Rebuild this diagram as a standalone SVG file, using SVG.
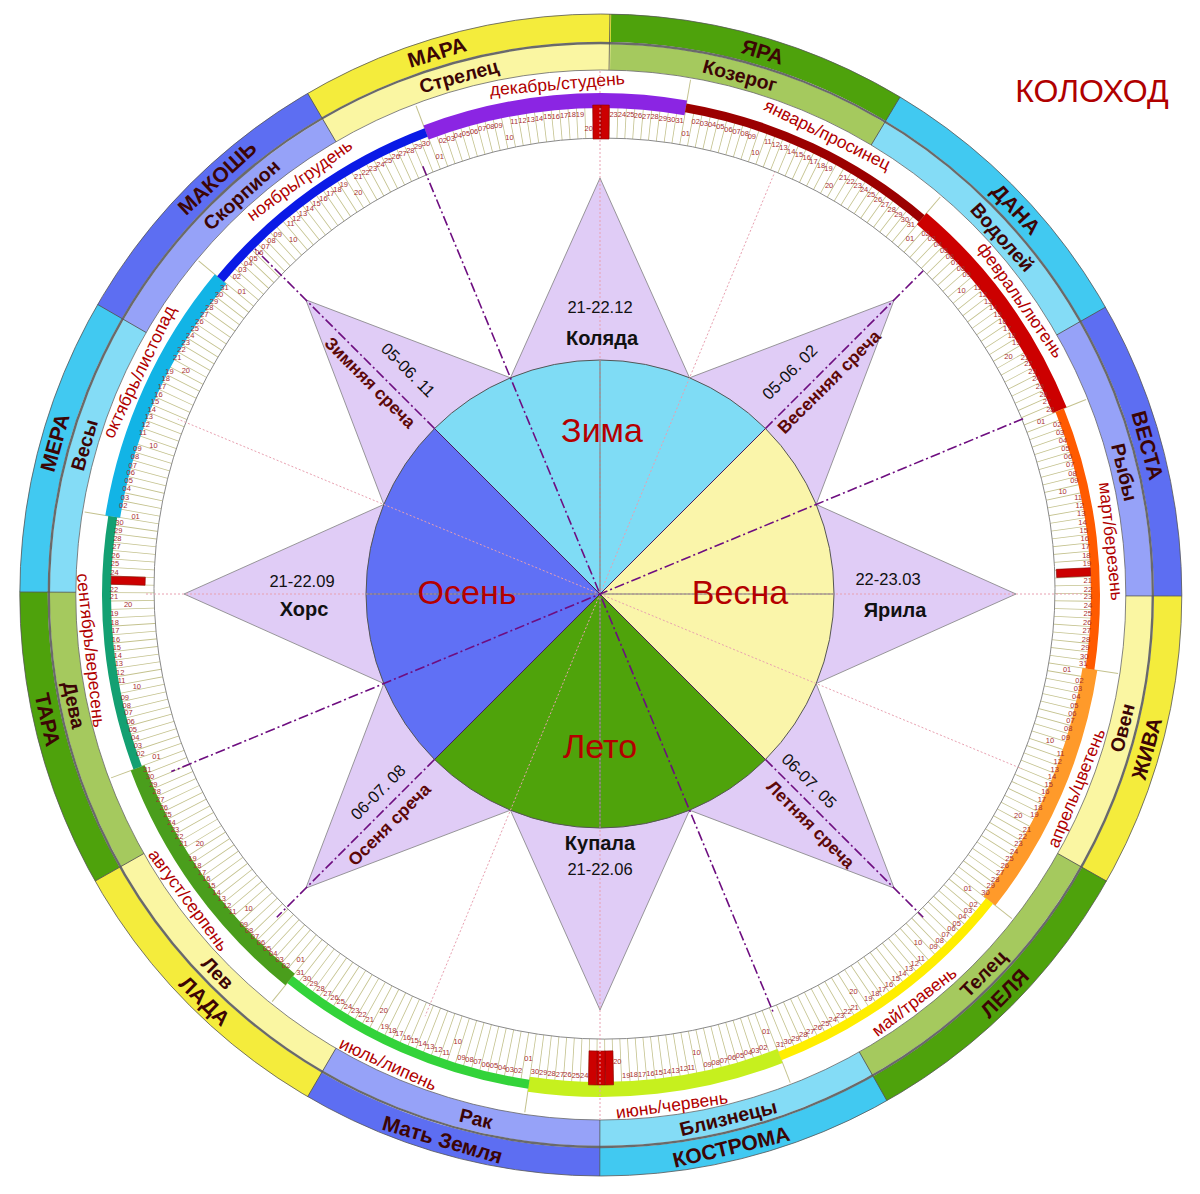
<svg xmlns="http://www.w3.org/2000/svg" width="1200" height="1194" viewBox="0 0 1200 1194">
<defs><style>
text{font-family:"Liberation Sans",Arial,sans-serif}
.dl{font-size:7.5px;fill:#a83030;text-anchor:middle;dominant-baseline:central}
.deity{font-size:21px;font-weight:bold;fill:#3c0505;text-anchor:middle;dominant-baseline:central}
.zod{font-size:19.5px;font-weight:bold;fill:#3c0505;text-anchor:middle;dominant-baseline:central}
.mon{font-size:17.5px;fill:#b00000;text-anchor:middle;dominant-baseline:central}
.season{font-size:34px;fill:#b40000;text-anchor:middle;dominant-baseline:central}
.date{font-size:16.5px;fill:#111;text-anchor:middle;dominant-baseline:central}
.name{font-size:20px;font-weight:bold;fill:#111;text-anchor:middle;dominant-baseline:central}
.sr{font-size:17.5px;font-weight:bold;fill:#5c0808;text-anchor:middle;dominant-baseline:central}
.dot{stroke:#e8a0b0;stroke-width:1;stroke-dasharray:2 2;fill:none}
.dd{stroke:#6e0e80;stroke-width:1.6;stroke-dasharray:10 3 2 3;fill:none}
.o{fill:none;stroke-width:28}
.z{fill:none;stroke-width:26}
.mb{fill:none;stroke-width:15}
.mt{fill:none;stroke-width:9}
</style></defs>
<rect width="1200" height="1194" fill="#fff"/>

<g id="outer-ring">
<g id="s-yara"><circle class="o" cx="600.8" cy="595" r="567" stroke="#4ea20c" stroke-dasharray="299 4000" transform="rotate(-89.1 600.8 595)"/><text class="deity" x="600.8" y="28" transform="rotate(16.6 600.8 595)">ЯРА</text></g>
<g id="s-dana"><circle class="o" cx="600.8" cy="595" r="567" stroke="#41c9f1" stroke-dasharray="291 4000" transform="rotate(-59 600.8 595)"/><text class="deity" x="600.8" y="28" transform="rotate(47.1 600.8 595)">ДАНА</text></g>
<g id="s-vesta"><circle class="o" cx="600.8" cy="595" r="567" stroke="#5d6ef2" stroke-dasharray="296 4000" transform="rotate(-29.7 600.8 595)"/><text class="deity" x="600.8" y="28" transform="rotate(74.7 600.8 595)">ВЕСТА</text></g>
<g id="s-zhiva"><circle class="o" cx="600.8" cy="595" r="567" stroke="#f4ec3c" stroke-dasharray="292 4000" transform="rotate(0.1 600.8 595)"/><text class="deity" x="600.8" y="1162" transform="rotate(-74.3 600.8 595)">ЖИВА</text></g>
<g id="s-lelya"><circle class="o" cx="600.8" cy="595" r="567" stroke="#4ea20c" stroke-dasharray="308 4000" transform="rotate(29.5 600.8 595)"/><text class="deity" x="600.8" y="1162" transform="rotate(-45.4 600.8 595)">ЛЕЛЯ</text></g>
<g id="s-kostroma"><circle class="o" cx="600.8" cy="595" r="567" stroke="#41c9f1" stroke-dasharray="294 4000" transform="rotate(60.5 600.8 595)"/><text class="deity" x="600.8" y="1162" transform="rotate(-13.3 600.8 595)">КОСТРОМА</text></g>
<g id="s-mat-zemlya"><circle class="o" cx="600.8" cy="595" r="567" stroke="#5d6ef2" stroke-dasharray="300 4000" transform="rotate(90.1 600.8 595)"/><text class="deity" x="600.8" y="1162" transform="rotate(16.2 600.8 595)">Мать Земля</text></g>
<g id="s-lada"><circle class="o" cx="600.8" cy="595" r="567" stroke="#f4ec3c" stroke-dasharray="300 4000" transform="rotate(120.3 600.8 595)"/><text class="deity" x="600.8" y="1162" transform="rotate(44.3 600.8 595)">ЛАДА</text></g>
<g id="s-tara"><circle class="o" cx="600.8" cy="595" r="567" stroke="#4ea20c" stroke-dasharray="296 4000" transform="rotate(150.5 600.8 595)"/><text class="deity" x="600.8" y="1162" transform="rotate(77.3 600.8 595)">ТАРА</text></g>
<g id="s-mera"><circle class="o" cx="600.8" cy="595" r="567" stroke="#41c9f1" stroke-dasharray="295 4000" transform="rotate(180.3 600.8 595)"/><text class="deity" x="600.8" y="28" transform="rotate(-74.4 600.8 595)">МЕРА</text></g>
<g id="s-makosh"><circle class="o" cx="600.8" cy="595" r="567" stroke="#5d6ef2" stroke-dasharray="295 4000" transform="rotate(210 600.8 595)"/><text class="deity" x="600.8" y="28" transform="rotate(-42.6 600.8 595)">МАКОШЬ</text></g>
<g id="s-mara"><circle class="o" cx="600.8" cy="595" r="567" stroke="#f4ec3c" stroke-dasharray="310 4000" transform="rotate(239.7 600.8 595)"/><text class="deity" x="600.8" y="28" transform="rotate(-16.8 600.8 595)">МАРА</text></g>
</g>

<g id="zodiac-ring">
<g id="z-kozerog"><circle class="z" cx="600.8" cy="595" r="538" stroke="#a5c95e" stroke-dasharray="284 4000" transform="rotate(-89.1 600.8 595)"/><text class="zod" x="600.8" y="57" transform="rotate(15 600.8 595)">Козерог</text></g>
<g id="z-vodoley"><circle class="z" cx="600.8" cy="595" r="538" stroke="#84dcf6" stroke-dasharray="276 4000" transform="rotate(-59 600.8 595)"/><text class="zod" x="600.8" y="57" transform="rotate(48.3 600.8 595)">Водолей</text></g>
<g id="z-ryby"><circle class="z" cx="600.8" cy="595" r="538" stroke="#96a2f8" stroke-dasharray="281 4000" transform="rotate(-29.7 600.8 595)"/><text class="zod" x="600.8" y="57" transform="rotate(76.8 600.8 595)">Рыбы</text></g>
<g id="z-oven"><circle class="z" cx="600.8" cy="595" r="538" stroke="#faf6a2" stroke-dasharray="277 4000" transform="rotate(0.1 600.8 595)"/><text class="zod" x="600.8" y="1133" transform="rotate(-75.7 600.8 595)">Овен</text></g>
<g id="z-telec"><circle class="z" cx="600.8" cy="595" r="538" stroke="#a5c95e" stroke-dasharray="292 4000" transform="rotate(29.5 600.8 595)"/><text class="zod" x="600.8" y="1133" transform="rotate(-45.3 600.8 595)">Телец</text></g>
<g id="z-bliznecy"><circle class="z" cx="600.8" cy="595" r="538" stroke="#84dcf6" stroke-dasharray="279 4000" transform="rotate(60.5 600.8 595)"/><text class="zod" x="600.8" y="1133" transform="rotate(-13.7 600.8 595)">Близнецы</text></g>
<g id="z-rak"><circle class="z" cx="600.8" cy="595" r="538" stroke="#96a2f8" stroke-dasharray="285 4000" transform="rotate(90.1 600.8 595)"/><text class="zod" x="600.8" y="1133" transform="rotate(13.4 600.8 595)">Рак</text></g>
<g id="z-lev"><circle class="z" cx="600.8" cy="595" r="538" stroke="#faf6a2" stroke-dasharray="285 4000" transform="rotate(120.3 600.8 595)"/><text class="zod" x="600.8" y="1133" transform="rotate(45.4 600.8 595)">Лев</text></g>
<g id="z-deva"><circle class="z" cx="600.8" cy="595" r="538" stroke="#a5c95e" stroke-dasharray="281 4000" transform="rotate(150.5 600.8 595)"/><text class="zod" x="600.8" y="1133" transform="rotate(78.2 600.8 595)">Дева</text></g>
<g id="z-vesy"><circle class="z" cx="600.8" cy="595" r="538" stroke="#84dcf6" stroke-dasharray="280 4000" transform="rotate(180.3 600.8 595)"/><text class="zod" x="600.8" y="57" transform="rotate(-73.8 600.8 595)">Весы</text></g>
<g id="z-skorpion"><circle class="z" cx="600.8" cy="595" r="538" stroke="#96a2f8" stroke-dasharray="280 4000" transform="rotate(210 600.8 595)"/><text class="zod" x="600.8" y="57" transform="rotate(-41.9 600.8 595)">Скорпион</text></g>
<g id="z-strelec"><circle class="z" cx="600.8" cy="595" r="538" stroke="#faf6a2" stroke-dasharray="294 4000" transform="rotate(239.7 600.8 595)"/><text class="zod" x="600.8" y="57" transform="rotate(-15.3 600.8 595)">Стрелец</text></g>
</g>

<g id="ring-lines" fill="none">
<circle cx="600.8" cy="595" r="581" stroke="#555" stroke-width="0.8"/>
<circle cx="600.8" cy="595" r="552" stroke="#6a6a6a" stroke-width="2.4"/>
<circle cx="600.8" cy="595" r="525" stroke="#666" stroke-width="0.8"/>
<g transform="translate(600.8 595)" stroke="#555" stroke-width="0.8">
<line y1="-525" y2="-581" transform="rotate(0.9)"/><line y1="-525" y2="-581" transform="rotate(31)"/><line y1="-525" y2="-581" transform="rotate(60.3)"/><line y1="-525" y2="-581" transform="rotate(90.1)"/><line y1="-525" y2="-581" transform="rotate(119.5)"/><line y1="-525" y2="-581" transform="rotate(150.5)"/><line y1="-525" y2="-581" transform="rotate(180.1)"/><line y1="-525" y2="-581" transform="rotate(210.3)"/><line y1="-525" y2="-581" transform="rotate(240.5)"/><line y1="-525" y2="-581" transform="rotate(270.3)"/><line y1="-525" y2="-581" transform="rotate(300)"/><line y1="-525" y2="-581" transform="rotate(329.7)"/>
</g>
</g>

<g id="day-ticks">
<circle cx="601" cy="595" r="465.5" fill="none" stroke="#c4c28e" stroke-width="51" stroke-dasharray="0.8 7.2132" stroke-dashoffset="2.4035"/>
<circle cx="604.5" cy="588.6" r="450.5" fill="#fff" stroke="#8a8a8a" stroke-width="1"/>
<g transform="translate(601 595)" stroke="#c4c28e" stroke-width="1">
<line y1="-488" y2="-523" transform="rotate(-20.71)"/><line y1="-488" y2="-523" transform="rotate(9.86)"/><line y1="-488" y2="-523" transform="rotate(40.44)"/><line y1="-488" y2="-523" transform="rotate(68.05)"/><line y1="-488" y2="-523" transform="rotate(98.63)"/><line y1="-488" y2="-523" transform="rotate(128.22)"/><line y1="-488" y2="-523" transform="rotate(158.79)"/><line y1="-488" y2="-523" transform="rotate(188.38)"/><line y1="-488" y2="-523" transform="rotate(218.96)"/><line y1="-488" y2="-523" transform="rotate(249.53)"/><line y1="-488" y2="-523" transform="rotate(279.12)"/><line y1="-488" y2="-523" transform="rotate(309.7)"/>
</g>
</g>

<g id="months">
<g id="m-dec"><circle class="mb" cx="601" cy="595" r="494.5" stroke="#8b25e3" stroke-dasharray="263.9 4000" transform="rotate(-110.712 601 595)"/><text class="mon" x="601" y="82" transform="rotate(-4.9 601 595)">декабрь/студень</text>
<g class="dl" transform="translate(601 595)"><text transform="rotate(-20.2)translate(0,-467)rotate(20.2)">01</text><text transform="rotate(-19.2)translate(0,-481)rotate(19.2)">02</text><text transform="rotate(-18.2)translate(0,-481)rotate(18.2)">03</text><text transform="rotate(-17.3)translate(0,-481)rotate(17.3)">04</text><text transform="rotate(-16.3)translate(0,-481)rotate(16.3)">05</text><text transform="rotate(-15.3)translate(0,-481)rotate(15.3)">06</text><text transform="rotate(-14.3)translate(0,-481)rotate(14.3)">07</text><text transform="rotate(-13.3)translate(0,-481)rotate(13.3)">08</text><text transform="rotate(-12.3)translate(0,-481)rotate(12.3)">09</text><text transform="rotate(-11.3)translate(0,-467)rotate(11.3)">10</text><text transform="rotate(-10.4)translate(0,-481)rotate(10.4)">11</text><text transform="rotate(-9.4)translate(0,-481)rotate(9.4)">12</text><text transform="rotate(-8.4)translate(0,-481)rotate(8.4)">13</text><text transform="rotate(-7.4)translate(0,-481)rotate(7.4)">14</text><text transform="rotate(-6.4)translate(0,-481)rotate(6.4)">15</text><text transform="rotate(-5.4)translate(0,-481)rotate(5.4)">16</text><text transform="rotate(-4.4)translate(0,-481)rotate(4.4)">17</text><text transform="rotate(-3.5)translate(0,-481)rotate(3.5)">18</text><text transform="rotate(-2.5)translate(0,-481)rotate(2.5)">19</text><text transform="rotate(-1.5)translate(0,-467)rotate(1.5)">20</text><text transform="rotate(1.5)translate(0,-481)rotate(-1.5)">23</text><text transform="rotate(2.5)translate(0,-481)rotate(-2.5)">24</text><text transform="rotate(3.5)translate(0,-481)rotate(-3.5)">25</text><text transform="rotate(4.4)translate(0,-481)rotate(-4.4)">26</text><text transform="rotate(5.4)translate(0,-481)rotate(-5.4)">27</text><text transform="rotate(6.4)translate(0,-481)rotate(-6.4)">28</text><text transform="rotate(7.4)translate(0,-481)rotate(-7.4)">29</text><text transform="rotate(8.4)translate(0,-481)rotate(-8.4)">30</text><text transform="rotate(9.4)translate(0,-481)rotate(-9.4)">31</text></g></g>

<g id="m-jan"><circle class="mt" cx="601" cy="595" r="494.5" stroke="#9b0000" stroke-dasharray="263.9 4000" transform="rotate(-80.137 601 595)"/><text class="mon" x="601" y="82" transform="rotate(26.2 601 595)">январь/просинец</text>
<g class="dl" transform="translate(601 595)"><text transform="rotate(10.4)translate(0,-469)rotate(-10.4)">01</text><text transform="rotate(11.3)translate(0,-483)rotate(-11.3)">02</text><text transform="rotate(12.3)translate(0,-483)rotate(-12.3)">03</text><text transform="rotate(13.3)translate(0,-483)rotate(-13.3)">04</text><text transform="rotate(14.3)translate(0,-483)rotate(-14.3)">05</text><text transform="rotate(15.3)translate(0,-483)rotate(-15.3)">06</text><text transform="rotate(16.3)translate(0,-483)rotate(-16.3)">07</text><text transform="rotate(17.3)translate(0,-483)rotate(-17.3)">08</text><text transform="rotate(18.2)translate(0,-483)rotate(-18.2)">09</text><text transform="rotate(19.2)translate(0,-469)rotate(-19.2)">10</text><text transform="rotate(20.2)translate(0,-483)rotate(-20.2)">11</text><text transform="rotate(21.2)translate(0,-483)rotate(-21.2)">12</text><text transform="rotate(22.2)translate(0,-483)rotate(-22.2)">13</text><text transform="rotate(23.2)translate(0,-483)rotate(-23.2)">14</text><text transform="rotate(24.2)translate(0,-483)rotate(-24.2)">15</text><text transform="rotate(25.2)translate(0,-483)rotate(-25.2)">16</text><text transform="rotate(26.1)translate(0,-483)rotate(-26.1)">17</text><text transform="rotate(27.1)translate(0,-483)rotate(-27.1)">18</text><text transform="rotate(28.1)translate(0,-483)rotate(-28.1)">19</text><text transform="rotate(29.1)translate(0,-469)rotate(-29.1)">20</text><text transform="rotate(30.1)translate(0,-483)rotate(-30.1)">21</text><text transform="rotate(31.1)translate(0,-483)rotate(-31.1)">22</text><text transform="rotate(32.1)translate(0,-483)rotate(-32.1)">23</text><text transform="rotate(33)translate(0,-483)rotate(-33)">24</text><text transform="rotate(34)translate(0,-483)rotate(-34)">25</text><text transform="rotate(35)translate(0,-483)rotate(-35)">26</text><text transform="rotate(36)translate(0,-483)rotate(-36)">27</text><text transform="rotate(37)translate(0,-483)rotate(-37)">28</text><text transform="rotate(38)translate(0,-483)rotate(-38)">29</text><text transform="rotate(39)translate(0,-483)rotate(-39)">30</text><text transform="rotate(39.9)translate(0,-483)rotate(-39.9)">31</text></g></g>

<g id="m-feb"><circle class="mb" cx="601" cy="595" r="494.5" stroke="#cc0000" stroke-width="17" stroke-dasharray="238.3 4000" transform="rotate(-49.562 601 595)"/><text class="mon" x="601" y="82" transform="rotate(54.9 601 595)">февраль/лютень</text>
<g class="dl" transform="translate(601 595)"><text transform="rotate(40.9)translate(0,-472)rotate(-40.9)">01</text><text transform="rotate(41.9)translate(0,-486)rotate(-41.9)">02</text><text transform="rotate(42.9)translate(0,-486)rotate(-42.9)">03</text><text transform="rotate(43.9)translate(0,-486)rotate(-43.9)">04</text><text transform="rotate(44.9)translate(0,-486)rotate(-44.9)">05</text><text transform="rotate(45.9)translate(0,-486)rotate(-45.9)">06</text><text transform="rotate(46.8)translate(0,-486)rotate(-46.8)">07</text><text transform="rotate(47.8)translate(0,-486)rotate(-47.8)">08</text><text transform="rotate(48.8)translate(0,-486)rotate(-48.8)">09</text><text transform="rotate(49.8)translate(0,-472)rotate(-49.8)">10</text><text transform="rotate(50.8)translate(0,-486)rotate(-50.8)">11</text><text transform="rotate(51.8)translate(0,-486)rotate(-51.8)">12</text><text transform="rotate(52.8)translate(0,-486)rotate(-52.8)">13</text><text transform="rotate(53.8)translate(0,-486)rotate(-53.8)">14</text><text transform="rotate(54.7)translate(0,-486)rotate(-54.7)">15</text><text transform="rotate(55.7)translate(0,-486)rotate(-55.7)">16</text><text transform="rotate(56.7)translate(0,-486)rotate(-56.7)">17</text><text transform="rotate(57.7)translate(0,-486)rotate(-57.7)">18</text><text transform="rotate(58.7)translate(0,-486)rotate(-58.7)">19</text><text transform="rotate(59.7)translate(0,-472)rotate(-59.7)">20</text><text transform="rotate(60.7)translate(0,-486)rotate(-60.7)">21</text><text transform="rotate(61.6)translate(0,-486)rotate(-61.6)">22</text><text transform="rotate(62.6)translate(0,-486)rotate(-62.6)">23</text><text transform="rotate(63.6)translate(0,-486)rotate(-63.6)">24</text><text transform="rotate(64.6)translate(0,-486)rotate(-64.6)">25</text><text transform="rotate(65.6)translate(0,-486)rotate(-65.6)">26</text><text transform="rotate(66.6)translate(0,-486)rotate(-66.6)">27</text><text transform="rotate(67.6)translate(0,-486)rotate(-67.6)">28</text></g></g>

<g id="m-mar"><circle class="mt" cx="601" cy="595" r="494.5" stroke="#ff5a00" stroke-dasharray="263.9 4000" transform="rotate(-21.945 601 595)"/><text class="mon" x="601" y="82" transform="rotate(84 601 595)">март/березень</text>
<g class="dl" transform="translate(601 595)"><text transform="rotate(68.5)translate(0,-473)rotate(-68.5)">01</text><text transform="rotate(69.5)translate(0,-487)rotate(-69.5)">02</text><text transform="rotate(70.5)translate(0,-487)rotate(-70.5)">03</text><text transform="rotate(71.5)translate(0,-487)rotate(-71.5)">04</text><text transform="rotate(72.5)translate(0,-487)rotate(-72.5)">05</text><text transform="rotate(73.5)translate(0,-487)rotate(-73.5)">06</text><text transform="rotate(74.5)translate(0,-487)rotate(-74.5)">07</text><text transform="rotate(75.5)translate(0,-487)rotate(-75.5)">08</text><text transform="rotate(76.4)translate(0,-487)rotate(-76.4)">09</text><text transform="rotate(77.4)translate(0,-473)rotate(-77.4)">10</text><text transform="rotate(78.4)translate(0,-487)rotate(-78.4)">11</text><text transform="rotate(79.4)translate(0,-487)rotate(-79.4)">12</text><text transform="rotate(80.4)translate(0,-487)rotate(-80.4)">13</text><text transform="rotate(81.4)translate(0,-487)rotate(-81.4)">14</text><text transform="rotate(82.4)translate(0,-487)rotate(-82.4)">15</text><text transform="rotate(83.3)translate(0,-487)rotate(-83.3)">16</text><text transform="rotate(84.3)translate(0,-487)rotate(-84.3)">17</text><text transform="rotate(85.3)translate(0,-487)rotate(-85.3)">18</text><text transform="rotate(86.3)translate(0,-487)rotate(-86.3)">19</text><text transform="rotate(88.3)translate(0,-487)rotate(-88.3)">21</text><text transform="rotate(89.3)translate(0,-487)rotate(-89.3)">22</text><text transform="rotate(90.2)translate(0,-487)rotate(-90.2)">23</text><text transform="rotate(91.2)translate(0,-487)rotate(-91.2)">24</text><text transform="rotate(92.2)translate(0,-487)rotate(-92.2)">25</text><text transform="rotate(93.2)translate(0,-487)rotate(-93.2)">26</text><text transform="rotate(94.2)translate(0,-487)rotate(-94.2)">27</text><text transform="rotate(95.2)translate(0,-487)rotate(-95.2)">28</text><text transform="rotate(96.2)translate(0,-487)rotate(-96.2)">29</text><text transform="rotate(97.2)translate(0,-487)rotate(-97.2)">30</text><text transform="rotate(98.1)translate(0,-487)rotate(-98.1)">31</text></g></g>

<g id="m-apr"><circle class="mb" cx="601" cy="595" r="494.5" stroke="#ff9a2a" stroke-dasharray="255.4 4000" transform="rotate(8.63 601 595)"/><text class="mon" x="601" y="1108" transform="rotate(-67.9 601 595)">апрель/цветень</text>
<g class="dl" transform="translate(601 595)"><text transform="rotate(99.1)translate(0,-472)rotate(-99.1)">01</text><text transform="rotate(100.1)translate(0,-486)rotate(-100.1)">02</text><text transform="rotate(101.1)translate(0,-486)rotate(-101.1)">03</text><text transform="rotate(102.1)translate(0,-486)rotate(-102.1)">04</text><text transform="rotate(103.1)translate(0,-486)rotate(-103.1)">05</text><text transform="rotate(104.1)translate(0,-486)rotate(-104.1)">06</text><text transform="rotate(105)translate(0,-486)rotate(-105)">07</text><text transform="rotate(106)translate(0,-486)rotate(-106)">08</text><text transform="rotate(107)translate(0,-486)rotate(-107)">09</text><text transform="rotate(108)translate(0,-472)rotate(-108)">10</text><text transform="rotate(109)translate(0,-486)rotate(-109)">11</text><text transform="rotate(110)translate(0,-486)rotate(-110)">12</text><text transform="rotate(111)translate(0,-486)rotate(-111)">13</text><text transform="rotate(111.9)translate(0,-486)rotate(-111.9)">14</text><text transform="rotate(112.9)translate(0,-486)rotate(-112.9)">15</text><text transform="rotate(113.9)translate(0,-486)rotate(-113.9)">16</text><text transform="rotate(114.9)translate(0,-486)rotate(-114.9)">17</text><text transform="rotate(115.9)translate(0,-486)rotate(-115.9)">18</text><text transform="rotate(116.9)translate(0,-486)rotate(-116.9)">19</text><text transform="rotate(117.9)translate(0,-472)rotate(-117.9)">20</text><text transform="rotate(118.8)translate(0,-486)rotate(-118.8)">21</text><text transform="rotate(119.8)translate(0,-486)rotate(-119.8)">22</text><text transform="rotate(120.8)translate(0,-486)rotate(-120.8)">23</text><text transform="rotate(121.8)translate(0,-486)rotate(-121.8)">24</text><text transform="rotate(122.8)translate(0,-486)rotate(-122.8)">25</text><text transform="rotate(123.8)translate(0,-486)rotate(-123.8)">26</text><text transform="rotate(124.8)translate(0,-486)rotate(-124.8)">27</text><text transform="rotate(125.8)translate(0,-486)rotate(-125.8)">28</text><text transform="rotate(126.7)translate(0,-486)rotate(-126.7)">29</text><text transform="rotate(127.7)translate(0,-486)rotate(-127.7)">30</text></g></g>

<g id="m-may"><circle class="mt" cx="601" cy="595" r="494.5" stroke="#ffee00" stroke-dasharray="263.9 4000" transform="rotate(38.219 601 595)"/><text class="mon" x="601" y="1108" transform="rotate(-37.6 601 595)">май/травень</text>
<g class="dl" transform="translate(601 595)"><text transform="rotate(128.7)translate(0,-470)rotate(-128.7)">01</text><text transform="rotate(129.7)translate(0,-484)rotate(-129.7)">02</text><text transform="rotate(130.7)translate(0,-484)rotate(-130.7)">03</text><text transform="rotate(131.7)translate(0,-484)rotate(-131.7)">04</text><text transform="rotate(132.7)translate(0,-484)rotate(-132.7)">05</text><text transform="rotate(133.6)translate(0,-484)rotate(-133.6)">06</text><text transform="rotate(134.6)translate(0,-484)rotate(-134.6)">07</text><text transform="rotate(135.6)translate(0,-484)rotate(-135.6)">08</text><text transform="rotate(136.6)translate(0,-484)rotate(-136.6)">09</text><text transform="rotate(137.6)translate(0,-470)rotate(-137.6)">10</text><text transform="rotate(138.6)translate(0,-484)rotate(-138.6)">11</text><text transform="rotate(139.6)translate(0,-484)rotate(-139.6)">12</text><text transform="rotate(140.5)translate(0,-484)rotate(-140.5)">13</text><text transform="rotate(141.5)translate(0,-484)rotate(-141.5)">14</text><text transform="rotate(142.5)translate(0,-484)rotate(-142.5)">15</text><text transform="rotate(143.5)translate(0,-484)rotate(-143.5)">16</text><text transform="rotate(144.5)translate(0,-484)rotate(-144.5)">17</text><text transform="rotate(145.5)translate(0,-484)rotate(-145.5)">18</text><text transform="rotate(146.5)translate(0,-484)rotate(-146.5)">19</text><text transform="rotate(147.5)translate(0,-470)rotate(-147.5)">20</text><text transform="rotate(148.4)translate(0,-484)rotate(-148.4)">21</text><text transform="rotate(149.4)translate(0,-484)rotate(-149.4)">22</text><text transform="rotate(150.4)translate(0,-484)rotate(-150.4)">23</text><text transform="rotate(151.4)translate(0,-484)rotate(-151.4)">24</text><text transform="rotate(152.4)translate(0,-484)rotate(-152.4)">25</text><text transform="rotate(153.4)translate(0,-484)rotate(-153.4)">26</text><text transform="rotate(154.4)translate(0,-484)rotate(-154.4)">27</text><text transform="rotate(155.3)translate(0,-484)rotate(-155.3)">28</text><text transform="rotate(156.3)translate(0,-484)rotate(-156.3)">29</text><text transform="rotate(157.3)translate(0,-484)rotate(-157.3)">30</text><text transform="rotate(158.3)translate(0,-484)rotate(-158.3)">31</text></g></g>

<g id="m-jun"><circle class="mb" cx="601" cy="595" r="494.5" stroke="#c6f01e" stroke-dasharray="255.4 4000" transform="rotate(68.795 601 595)"/><text class="mon" x="601" y="1110" transform="rotate(-7.9 601 595)">июнь/червень</text>
<g class="dl" transform="translate(601 595)"><text transform="rotate(159.3)translate(0,-467)rotate(-159.3)">01</text><text transform="rotate(160.3)translate(0,-481)rotate(-160.3)">02</text><text transform="rotate(161.3)translate(0,-481)rotate(-161.3)">03</text><text transform="rotate(162.2)translate(0,-481)rotate(-162.2)">04</text><text transform="rotate(163.2)translate(0,-481)rotate(-163.2)">05</text><text transform="rotate(164.2)translate(0,-481)rotate(-164.2)">06</text><text transform="rotate(165.2)translate(0,-481)rotate(-165.2)">07</text><text transform="rotate(166.2)translate(0,-481)rotate(-166.2)">08</text><text transform="rotate(167.2)translate(0,-481)rotate(-167.2)">09</text><text transform="rotate(168.2)translate(0,-467)rotate(-168.2)">10</text><text transform="rotate(169.2)translate(0,-481)rotate(-169.2)">11</text><text transform="rotate(170.1)translate(0,-481)rotate(-170.1)">12</text><text transform="rotate(171.1)translate(0,-481)rotate(-171.1)">13</text><text transform="rotate(172.1)translate(0,-481)rotate(-172.1)">14</text><text transform="rotate(173.1)translate(0,-481)rotate(-173.1)">15</text><text transform="rotate(174.1)translate(0,-481)rotate(-174.1)">16</text><text transform="rotate(175.1)translate(0,-481)rotate(-175.1)">17</text><text transform="rotate(176.1)translate(0,-481)rotate(-176.1)">18</text><text transform="rotate(177)translate(0,-481)rotate(-177)">19</text><text transform="rotate(178)translate(0,-467)rotate(-178)">20</text><text transform="rotate(182)translate(0,-481)rotate(-182)">24</text><text transform="rotate(183)translate(0,-481)rotate(-183)">25</text><text transform="rotate(184)translate(0,-481)rotate(-184)">26</text><text transform="rotate(184.9)translate(0,-481)rotate(-184.9)">27</text><text transform="rotate(185.9)translate(0,-481)rotate(-185.9)">28</text><text transform="rotate(186.9)translate(0,-481)rotate(-186.9)">29</text><text transform="rotate(187.9)translate(0,-481)rotate(-187.9)">30</text></g></g>

<g id="m-jul"><circle class="mt" cx="601" cy="595" r="494.5" stroke="#33d33a" stroke-dasharray="263.9 4000" transform="rotate(98.384 601 595)"/><text class="mon" x="601" y="1110" transform="rotate(24.4 601 595)">июль/липень</text>
<g class="dl" transform="translate(601 595)"><text transform="rotate(188.9)translate(0,-469)rotate(-188.9)">01</text><text transform="rotate(189.9)translate(0,-483)rotate(-189.9)">02</text><text transform="rotate(190.9)translate(0,-483)rotate(-190.9)">03</text><text transform="rotate(191.8)translate(0,-483)rotate(-191.8)">04</text><text transform="rotate(192.8)translate(0,-483)rotate(-192.8)">05</text><text transform="rotate(193.8)translate(0,-483)rotate(-193.8)">06</text><text transform="rotate(194.8)translate(0,-483)rotate(-194.8)">07</text><text transform="rotate(195.8)translate(0,-483)rotate(-195.8)">08</text><text transform="rotate(196.8)translate(0,-483)rotate(-196.8)">09</text><text transform="rotate(197.8)translate(0,-469)rotate(-197.8)">10</text><text transform="rotate(198.7)translate(0,-483)rotate(-198.7)">11</text><text transform="rotate(199.7)translate(0,-483)rotate(-199.7)">12</text><text transform="rotate(200.7)translate(0,-483)rotate(-200.7)">13</text><text transform="rotate(201.7)translate(0,-483)rotate(-201.7)">14</text><text transform="rotate(202.7)translate(0,-483)rotate(-202.7)">15</text><text transform="rotate(203.7)translate(0,-483)rotate(-203.7)">16</text><text transform="rotate(204.7)translate(0,-483)rotate(-204.7)">17</text><text transform="rotate(205.6)translate(0,-483)rotate(-205.6)">18</text><text transform="rotate(206.6)translate(0,-483)rotate(-206.6)">19</text><text transform="rotate(207.6)translate(0,-469)rotate(-207.6)">20</text><text transform="rotate(208.6)translate(0,-483)rotate(-208.6)">21</text><text transform="rotate(209.6)translate(0,-483)rotate(-209.6)">22</text><text transform="rotate(210.6)translate(0,-483)rotate(-210.6)">23</text><text transform="rotate(211.6)translate(0,-483)rotate(-211.6)">24</text><text transform="rotate(212.6)translate(0,-483)rotate(-212.6)">25</text><text transform="rotate(213.5)translate(0,-483)rotate(-213.5)">26</text><text transform="rotate(214.5)translate(0,-483)rotate(-214.5)">27</text><text transform="rotate(215.5)translate(0,-483)rotate(-215.5)">28</text><text transform="rotate(216.5)translate(0,-483)rotate(-216.5)">29</text><text transform="rotate(217.5)translate(0,-483)rotate(-217.5)">30</text><text transform="rotate(218.5)translate(0,-483)rotate(-218.5)">31</text></g></g>

<g id="m-aug"><circle class="mb" cx="601" cy="595" r="494.5" stroke="#4a9e1c" stroke-width="12" stroke-dasharray="263.9 4000" transform="rotate(128.959 601 595)"/><text class="mon" x="601" y="1108" transform="rotate(53.5 601 595)">август/серпень</text>
<g class="dl" transform="translate(601 595)"><text transform="rotate(219.5)translate(0,-472)rotate(-219.5)">01</text><text transform="rotate(220.4)translate(0,-486)rotate(-220.4)">02</text><text transform="rotate(221.4)translate(0,-486)rotate(-221.4)">03</text><text transform="rotate(222.4)translate(0,-486)rotate(-222.4)">04</text><text transform="rotate(223.4)translate(0,-486)rotate(-223.4)">05</text><text transform="rotate(224.4)translate(0,-486)rotate(-224.4)">06</text><text transform="rotate(225.4)translate(0,-486)rotate(-225.4)">07</text><text transform="rotate(226.4)translate(0,-486)rotate(-226.4)">08</text><text transform="rotate(227.3)translate(0,-486)rotate(-227.3)">09</text><text transform="rotate(228.3)translate(0,-472)rotate(-228.3)">10</text><text transform="rotate(229.3)translate(0,-486)rotate(-229.3)">11</text><text transform="rotate(230.3)translate(0,-486)rotate(-230.3)">12</text><text transform="rotate(231.3)translate(0,-486)rotate(-231.3)">13</text><text transform="rotate(232.3)translate(0,-486)rotate(-232.3)">14</text><text transform="rotate(233.3)translate(0,-486)rotate(-233.3)">15</text><text transform="rotate(234.3)translate(0,-486)rotate(-234.3)">16</text><text transform="rotate(235.2)translate(0,-486)rotate(-235.2)">17</text><text transform="rotate(236.2)translate(0,-486)rotate(-236.2)">18</text><text transform="rotate(237.2)translate(0,-486)rotate(-237.2)">19</text><text transform="rotate(238.2)translate(0,-472)rotate(-238.2)">20</text><text transform="rotate(239.2)translate(0,-486)rotate(-239.2)">21</text><text transform="rotate(240.2)translate(0,-486)rotate(-240.2)">22</text><text transform="rotate(241.2)translate(0,-486)rotate(-241.2)">23</text><text transform="rotate(242.1)translate(0,-486)rotate(-242.1)">24</text><text transform="rotate(243.1)translate(0,-486)rotate(-243.1)">25</text><text transform="rotate(244.1)translate(0,-486)rotate(-244.1)">26</text><text transform="rotate(245.1)translate(0,-486)rotate(-245.1)">27</text><text transform="rotate(246.1)translate(0,-486)rotate(-246.1)">28</text><text transform="rotate(247.1)translate(0,-486)rotate(-247.1)">29</text><text transform="rotate(248.1)translate(0,-486)rotate(-248.1)">30</text><text transform="rotate(249)translate(0,-486)rotate(-249)">31</text></g></g>

<g id="m-sep"><circle class="mt" cx="601" cy="595" r="494.5" stroke="#13a072" stroke-dasharray="255.4 4000" transform="rotate(159.534 601 595)"/><text class="mon" x="601" y="1108" transform="rotate(83.8 601 595)">сентябрь/вересень</text>
<g class="dl" transform="translate(601 595)"><text transform="rotate(250)translate(0,-473)rotate(-250)">01</text><text transform="rotate(251)translate(0,-487)rotate(-251)">02</text><text transform="rotate(252)translate(0,-487)rotate(-252)">03</text><text transform="rotate(253)translate(0,-487)rotate(-253)">04</text><text transform="rotate(254)translate(0,-487)rotate(-254)">05</text><text transform="rotate(255)translate(0,-487)rotate(-255)">06</text><text transform="rotate(256)translate(0,-487)rotate(-256)">07</text><text transform="rotate(256.9)translate(0,-487)rotate(-256.9)">08</text><text transform="rotate(257.9)translate(0,-487)rotate(-257.9)">09</text><text transform="rotate(258.9)translate(0,-473)rotate(-258.9)">10</text><text transform="rotate(259.9)translate(0,-487)rotate(-259.9)">11</text><text transform="rotate(260.9)translate(0,-487)rotate(-260.9)">12</text><text transform="rotate(261.9)translate(0,-487)rotate(-261.9)">13</text><text transform="rotate(262.9)translate(0,-487)rotate(-262.9)">14</text><text transform="rotate(263.8)translate(0,-487)rotate(-263.8)">15</text><text transform="rotate(264.8)translate(0,-487)rotate(-264.8)">16</text><text transform="rotate(265.8)translate(0,-487)rotate(-265.8)">17</text><text transform="rotate(266.8)translate(0,-487)rotate(-266.8)">18</text><text transform="rotate(267.8)translate(0,-487)rotate(-267.8)">19</text><text transform="rotate(268.8)translate(0,-473)rotate(-268.8)">20</text><text transform="rotate(269.8)translate(0,-487)rotate(-269.8)">21</text><text transform="rotate(270.7)translate(0,-487)rotate(-270.7)">22</text><text transform="rotate(272.7)translate(0,-487)rotate(-272.7)">24</text><text transform="rotate(273.7)translate(0,-487)rotate(-273.7)">25</text><text transform="rotate(274.7)translate(0,-487)rotate(-274.7)">26</text><text transform="rotate(275.7)translate(0,-487)rotate(-275.7)">27</text><text transform="rotate(276.7)translate(0,-487)rotate(-276.7)">28</text><text transform="rotate(277.6)translate(0,-487)rotate(-277.6)">29</text><text transform="rotate(278.6)translate(0,-487)rotate(-278.6)">30</text></g></g>

<g id="m-oct"><circle class="mb" cx="601" cy="595" r="494.5" stroke="#12b4e6" stroke-width="13" stroke-dasharray="263.9 4000" transform="rotate(189.123 601 595)"/><text class="mon" x="601" y="82" transform="rotate(-64.2 601 595)">октябрь/листопад</text>
<g class="dl" transform="translate(601 595)"><text transform="rotate(279.6)translate(0,-472)rotate(-279.6)">01</text><text transform="rotate(280.6)translate(0,-486)rotate(-280.6)">02</text><text transform="rotate(281.6)translate(0,-486)rotate(-281.6)">03</text><text transform="rotate(282.6)translate(0,-486)rotate(-282.6)">04</text><text transform="rotate(283.6)translate(0,-486)rotate(-283.6)">05</text><text transform="rotate(284.6)translate(0,-486)rotate(-284.6)">06</text><text transform="rotate(285.5)translate(0,-486)rotate(-285.5)">07</text><text transform="rotate(286.5)translate(0,-486)rotate(-286.5)">08</text><text transform="rotate(287.5)translate(0,-486)rotate(-287.5)">09</text><text transform="rotate(288.5)translate(0,-472)rotate(-288.5)">10</text><text transform="rotate(289.5)translate(0,-486)rotate(-289.5)">11</text><text transform="rotate(290.5)translate(0,-486)rotate(-290.5)">12</text><text transform="rotate(291.5)translate(0,-486)rotate(-291.5)">13</text><text transform="rotate(292.4)translate(0,-486)rotate(-292.4)">14</text><text transform="rotate(293.4)translate(0,-486)rotate(-293.4)">15</text><text transform="rotate(294.4)translate(0,-486)rotate(-294.4)">16</text><text transform="rotate(295.4)translate(0,-486)rotate(-295.4)">17</text><text transform="rotate(296.4)translate(0,-486)rotate(-296.4)">18</text><text transform="rotate(297.4)translate(0,-486)rotate(-297.4)">19</text><text transform="rotate(298.4)translate(0,-472)rotate(-298.4)">20</text><text transform="rotate(299.3)translate(0,-486)rotate(-299.3)">21</text><text transform="rotate(300.3)translate(0,-486)rotate(-300.3)">22</text><text transform="rotate(301.3)translate(0,-486)rotate(-301.3)">23</text><text transform="rotate(302.3)translate(0,-486)rotate(-302.3)">24</text><text transform="rotate(303.3)translate(0,-486)rotate(-303.3)">25</text><text transform="rotate(304.3)translate(0,-486)rotate(-304.3)">26</text><text transform="rotate(305.3)translate(0,-486)rotate(-305.3)">27</text><text transform="rotate(306.3)translate(0,-486)rotate(-306.3)">28</text><text transform="rotate(307.2)translate(0,-486)rotate(-307.2)">29</text><text transform="rotate(308.2)translate(0,-486)rotate(-308.2)">30</text><text transform="rotate(309.2)translate(0,-486)rotate(-309.2)">31</text></g></g>

<g id="m-nov"><circle class="mt" cx="601" cy="595" r="494.5" stroke="#0a1ae6" stroke-dasharray="255.4 4000" transform="rotate(219.699 601 595)"/><text class="mon" x="601" y="82" transform="rotate(-36 601 595)">ноябрь/грудень</text>
<g class="dl" transform="translate(601 595)"><text transform="rotate(310.2)translate(0,-470)rotate(-310.2)">01</text><text transform="rotate(311.2)translate(0,-484)rotate(-311.2)">02</text><text transform="rotate(312.2)translate(0,-484)rotate(-312.2)">03</text><text transform="rotate(313.2)translate(0,-484)rotate(-313.2)">04</text><text transform="rotate(314.1)translate(0,-484)rotate(-314.1)">05</text><text transform="rotate(315.1)translate(0,-484)rotate(-315.1)">06</text><text transform="rotate(316.1)translate(0,-484)rotate(-316.1)">07</text><text transform="rotate(317.1)translate(0,-484)rotate(-317.1)">08</text><text transform="rotate(318.1)translate(0,-484)rotate(-318.1)">09</text><text transform="rotate(319.1)translate(0,-470)rotate(-319.1)">10</text><text transform="rotate(320.1)translate(0,-484)rotate(-320.1)">11</text><text transform="rotate(321)translate(0,-484)rotate(-321)">12</text><text transform="rotate(322)translate(0,-484)rotate(-322)">13</text><text transform="rotate(323)translate(0,-484)rotate(-323)">14</text><text transform="rotate(324)translate(0,-484)rotate(-324)">15</text><text transform="rotate(325)translate(0,-484)rotate(-325)">16</text><text transform="rotate(326)translate(0,-484)rotate(-326)">17</text><text transform="rotate(327)translate(0,-484)rotate(-327)">18</text><text transform="rotate(327.9)translate(0,-484)rotate(-327.9)">19</text><text transform="rotate(328.9)translate(0,-470)rotate(-328.9)">20</text><text transform="rotate(329.9)translate(0,-484)rotate(-329.9)">21</text><text transform="rotate(330.9)translate(0,-484)rotate(-330.9)">22</text><text transform="rotate(331.9)translate(0,-484)rotate(-331.9)">23</text><text transform="rotate(332.9)translate(0,-484)rotate(-332.9)">24</text><text transform="rotate(333.9)translate(0,-484)rotate(-333.9)">25</text><text transform="rotate(334.9)translate(0,-484)rotate(-334.9)">26</text><text transform="rotate(335.8)translate(0,-484)rotate(-335.8)">27</text><text transform="rotate(336.8)translate(0,-484)rotate(-336.8)">28</text><text transform="rotate(337.8)translate(0,-484)rotate(-337.8)">29</text><text transform="rotate(338.8)translate(0,-484)rotate(-338.8)">30</text></g></g>
</g>

<g id="solstice-marks" transform="translate(601 595)" fill="#cc0000" stroke="#8a0000" stroke-width="0.6">
<rect x="-4.07" y="-490" width="8.14" height="34" transform="rotate(-0.493)"/><rect x="-4.07" y="-490" width="8.14" height="34" transform="rotate(0.493)"/>
<rect x="-4.07" y="-490" width="8.14" height="34" transform="rotate(87.288)"/>
<rect x="-4.07" y="-490" width="8.14" height="34" transform="rotate(179.01)"/><rect x="-4.07" y="-490" width="8.14" height="34" transform="rotate(180)"/><rect x="-4.07" y="-490" width="8.14" height="34" transform="rotate(180.99)"/>
<rect x="-4.07" y="-490" width="8.14" height="34" transform="rotate(271.73)"/>
</g>

<g id="star">
<polygon points="600,178 689.55,377.81 894.16,299.84 816.19,504.45 1016,594 816.19,683.55 894.16,888.16 689.55,810.19 600,1010 510.45,810.19 305.84,888.16 383.81,683.55 184,594 383.81,504.45 305.84,299.84 510.45,377.81" fill="#e0ccf6" stroke="#808080" stroke-width="0.8"/>
</g>

<g id="seasons" stroke="none">
<path id="zima" d="M600,594 L434.54,428.54 A234,234 0 0 1 765.46,428.54 Z" fill="#7fdcf5"/>
<path id="vesna" d="M600,594 L765.46,428.54 A234,234 0 0 1 765.46,759.46 Z" fill="#faf5aa"/>
<path id="leto" d="M600,594 L765.46,759.46 A234,234 0 0 1 434.54,759.46 Z" fill="#4fa30b"/>
<path id="osen" d="M600,594 L434.54,759.46 A234,234 0 0 1 434.54,428.54 Z" fill="#6070f5"/>
<circle cx="600" cy="594" r="234" fill="none" stroke="#555" stroke-width="1"/>
</g>

<g id="connectors">
<line class="dot" x1="600" y1="594" x2="600" y2="108"/><line class="dot" x1="600" y1="93" x2="600" y2="70"/>
<line class="dot" x1="600" y1="594" x2="600" y2="1120"/>
<line class="dot" x1="600" y1="594" x2="1083" y2="594"/><line class="dot" x1="600" y1="594" x2="145" y2="594"/>
<line class="dot" x1="600" y1="594" x2="774.9" y2="171.8"/><line class="dot" x1="600" y1="594" x2="1022.2" y2="768.9"/><line class="dot" x1="600" y1="594" x2="425.1" y2="1016.2"/><line class="dot" x1="600" y1="594" x2="177.8" y2="419.1"/>
<line x1="600" y1="360" x2="600" y2="828" stroke="#7a7a7a" stroke-width="1"/>
<line x1="366" y1="594" x2="834" y2="594" stroke="#7a7a7a" stroke-width="1"/>
<line x1="434.54" y1="428.54" x2="765.46" y2="759.46" stroke="#4b1a5a" stroke-width="1"/>
<line x1="765.46" y1="428.54" x2="434.54" y2="759.46" stroke="#4b1a5a" stroke-width="1"/>
<line class="dd" x1="422.8" y1="166.2" x2="774.1" y2="1014.4"/>
<line class="dd" x1="1023.1" y1="418.7" x2="171.3" y2="771.6"/>
<line class="dd" x1="434.5" y1="428.5" x2="254.9" y2="248.9"/>
<line class="dd" x1="765.5" y1="428.5" x2="923.2" y2="270.8"/>
<line class="dd" x1="765.5" y1="759.5" x2="923.2" y2="917.2"/>
<line class="dd" x1="434.5" y1="759.5" x2="276.8" y2="917.2"/>
</g>

<g id="season-labels">
<text class="season" x="602" y="430">Зима</text>
<text class="season" x="740" y="592">Весна</text>
<text class="season" x="600" y="746">Лето</text>
<text class="season" x="467" y="592">Осень</text>
</g>

<g id="p-kolyada"><text class="date" x="600" y="307">21-22.12</text><text class="name" x="602" y="338">Коляда</text></g>
<g id="p-yarila"><text class="date" x="888" y="579">22-23.03</text><text class="name" x="895" y="610">Ярила</text></g>
<g id="p-kupala"><text class="name" x="600" y="843">Купала</text><text class="date" x="600" y="869">21-22.06</text></g>
<g id="p-hors"><text class="date" x="302" y="581">21-22.09</text><text class="name" x="304" y="609">Хорс</text></g>
<g id="p-zimnyaya" transform="rotate(45 600 594)"><text class="date" x="306" y="571">05-06. 11</text><text class="sr" x="288" y="607">Зимняя среча</text></g>
<g id="p-vesennyaya" transform="rotate(-45 600 594)"><text class="date" x="891" y="571">05-06. 02</text><text class="sr" x="912" y="606">Весенняя среча</text></g>
<g id="p-letnyaya" transform="rotate(45 600 594)"><text class="date" x="880" y="578">06-07. 05</text><text class="sr" x="912" y="608">Летняя среча</text></g>
<g id="p-osenyaya" transform="rotate(-45 600 594)"><text class="date" x="303" y="577">06-07. 08</text><text class="sr" x="288" y="608">Осеня среча</text></g>

<text id="title" x="1092" y="102" font-size="32" fill="#b00000" text-anchor="middle">КОЛОХОД</text>
</svg>
